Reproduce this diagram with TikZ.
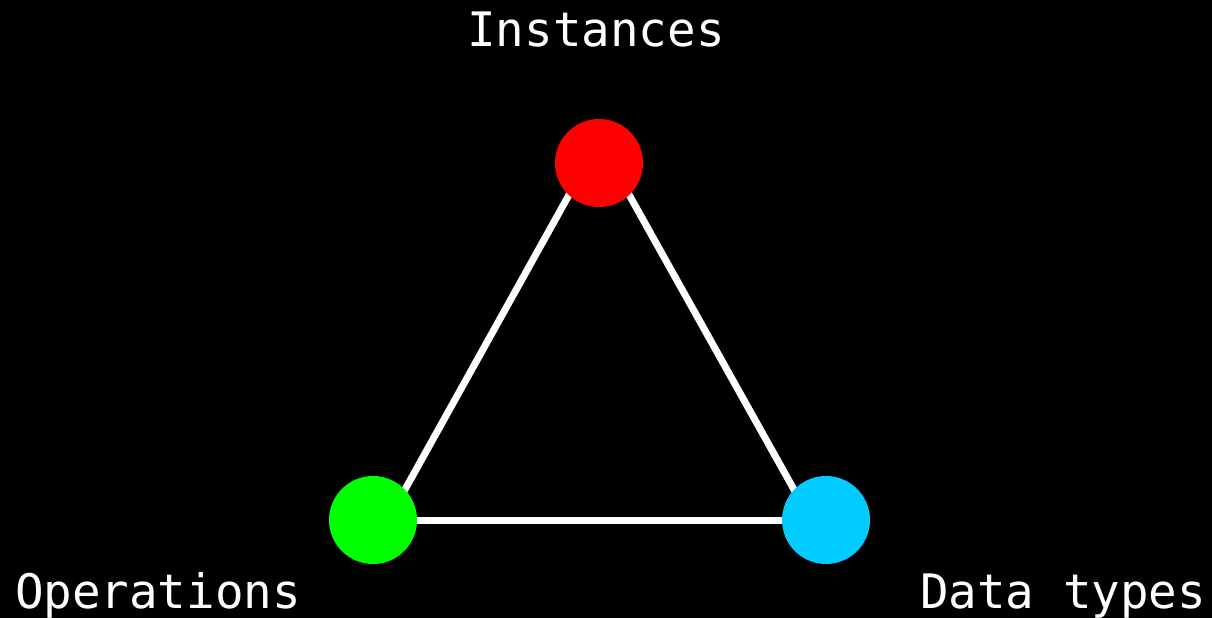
\documentclass[tikz,border=0pt]{standalone}
\usepackage{fontspec}
\setmonofont{DejaVu Sans Mono}
\definecolor{cyanblue}{HTML}{00CCFF}
\definecolor{pureGreen}{HTML}{00FF00}
\definecolor{pureRed}{HTML}{FF0000}
\begin{document}
\begin{tikzpicture}[x=1pt,y=-1pt,
  dot/.style={circle,minimum size=88pt,inner sep=0pt,draw=none},
  edge/.style={draw=white,line width=7pt},
  lbl/.style={text=white,inner sep=0pt,anchor=base,font=\ttfamily\fontsize{47.5}{50}\selectfont}]
\fill[black] (0,0) rectangle (1212,618);
\useasboundingbox (0,0) rectangle (1212,618);
\coordinate (apex) at (599,141);
\coordinate (bl) at (388,520);
\coordinate (br) at (811,520);
\node[dot] (inst) at (599,163) {};
\node[dot] (ops) at (373,520) {};
\node[dot] (dt) at (826,520) {};
\draw[edge] (apex) -- (bl);
\draw[edge] (apex) -- (br);
\draw[edge] (ops.center) -- (dt.center);
\fill[pureRed] (inst) circle (44);
\fill[pureGreen] (ops) circle (44);
\fill[cyanblue] (dt) circle (44);
\node[lbl] (tinst) at (596,47) {Instances};
\node[lbl] (tops) at (158,608) {Operations};
\node[lbl] (tdt) at (1063,608) {Data types};
\end{tikzpicture}
\end{document}
